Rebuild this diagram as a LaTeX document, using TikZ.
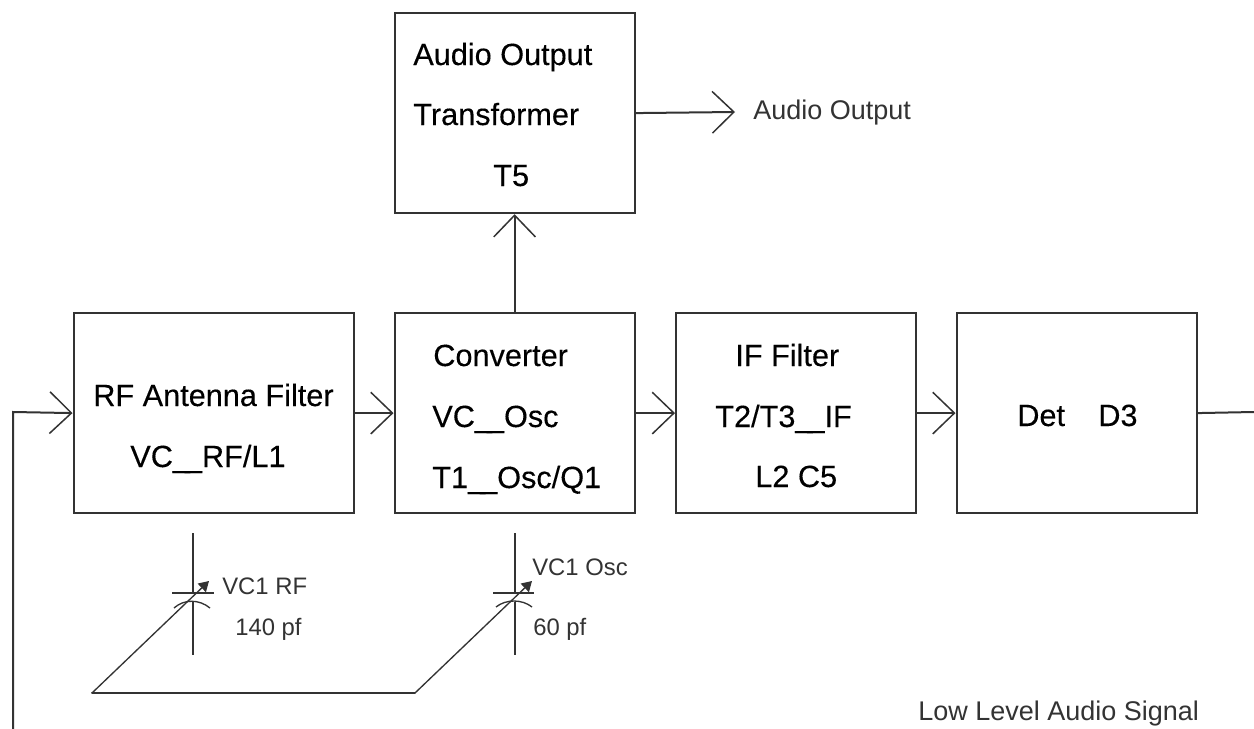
\documentclass[tikz,border=0pt]{standalone}
\usepackage{fontspec}
\setmainfont{Liberation Sans}
\newfontfamily\heavyf[FakeBold=0.25]{Liberation Sans}
\usetikzlibrary{arrows.meta}
\definecolor{linegrey}{gray}{0.2}
\tikzset{
 x=0.6pt,y=-0.6pt,
 blockbox/.style={draw=linegrey,line width=1.3pt,minimum width=144pt,minimum height=120pt,inner sep=0pt,anchor=north west},
 wire/.style={draw=linegrey,line width=1.2pt},
 flow/.style={wire,-{Straight Barb[length=13pt,width=25pt,line width=0.9pt]}},
 big/.style={anchor=base west,inner sep=0pt,text=black,font=\heavyf\fontsize{18.4pt}{20pt}\selectfont},
 small/.style={anchor=base west,inner sep=0pt,text=black!80,font=\fontsize{14.3pt}{16pt}\selectfont},
 wide/.style={anchor=base west,inner sep=0pt,text=black!80,font=\fontsize{16.2pt}{18pt}\selectfont},
 slim/.style={draw=linegrey,line width=0.8pt},
 knob/.style={slim,-{Triangle[length=6pt,width=7pt]}},
}
\begin{document}
\begin{tikzpicture}
\useasboundingbox (0,0) rectangle (1254,729);
\fill[white] (0,0) rectangle (1254,729);
\node[blockbox,minimum width=168pt] (rf) at (72.5,312) {};
\node[blockbox] (conv) at (393.5,312) {};
\node[blockbox] (ifb) at (675,312) {};
\node[blockbox] (det) at (955.5,312) {};
\node[blockbox] (aud) at (393.5,12) {};
\coordinate (fbb) at (13,729);
\coordinate (fbc) at (13,412);
\coordinate (outr) at (1254,412);
\coordinate (audo) at (735,112);
\draw[flow] (fbb) -- (fbc) -- (rf.west);
\draw[flow] (rf.east) -- (conv.west);
\draw[flow] (conv.east) -- (ifb.west);
\draw[flow] (ifb.east) -- (det.west);
\draw[wire] (det.east) -- (outr);
\draw[flow] (conv.north) -- (aud.south);
\draw[flow] (aud.east) -- (audo);
\node[big] (a1) at (413,65) {Audio Output};
\node[big] (a2) at (413,125) {Transformer};
\node[big] (a3) at (493,186) {T5};
\node[big] (r1) at (93,406) {RF Antenna Filter};
\node[big] (r2) at (130,467) {VC\_\kern-3pt\_RF/L1};
\node[big] (c1) at (433,366) {Converter};
\node[big] (c2) at (432,427) {VC\_\kern-3pt\_Osc};
\node[big] (c3) at (432,488) {T1\_\kern-3pt\_Osc/Q1};
\node[big] (i1) at (735,366) {IF Filter};
\node[big] (i2) at (715,427) {T2/T3\_\kern-3pt\_IF};
\node[big] (i3) at (755,487) {L2 C5};
\node[big] (d1) at (1017,426) {Det\hspace{20pt}D3};
\node[wide] (t1) at (753,119) {Audio Output};
\node[small] (t2) at (222,594) {VC1 RF};
\node[small] (t3) at (235,635) {140 pf};
\node[small] (t4) at (532,575) {VC1 Osc};
\node[small] (t5) at (533,635) {60 pf};
\node[wide] (t6) at (918,720) {Low Level Audio Signal};
% capacitors
\coordinate (k1t) at (193,533);
\coordinate (k1b) at (193,655);
\coordinate (k2t) at (515,533);
\coordinate (k2b) at (515,655);
\coordinate (p0) at (92,693);
\coordinate (p1) at (415,693);
\coordinate (tipa) at (209,581);
\coordinate (tipb) at (532,581);
\draw[wire] (k1t) -- (193,593);
\draw[wire] (193,602) -- (k1b);
\draw[wire] (172,593) -- (214,593);
\draw[wire] (k2t) -- (515,593);
\draw[wire] (515,602) -- (k2b);
\draw[wire] (493,593) -- (534,593);
\draw[slim] (174,608) .. controls (184,599) and (199,599) .. (210,608);
\draw[slim] (496,607) .. controls (506,599) and (522,599) .. (532,607);
\draw[knob] (p0) -- (tipa);
\draw[wire,line cap=round] (p0) -- (p1);
\draw[knob] (p1) -- (tipb);
\end{tikzpicture}
\end{document}
